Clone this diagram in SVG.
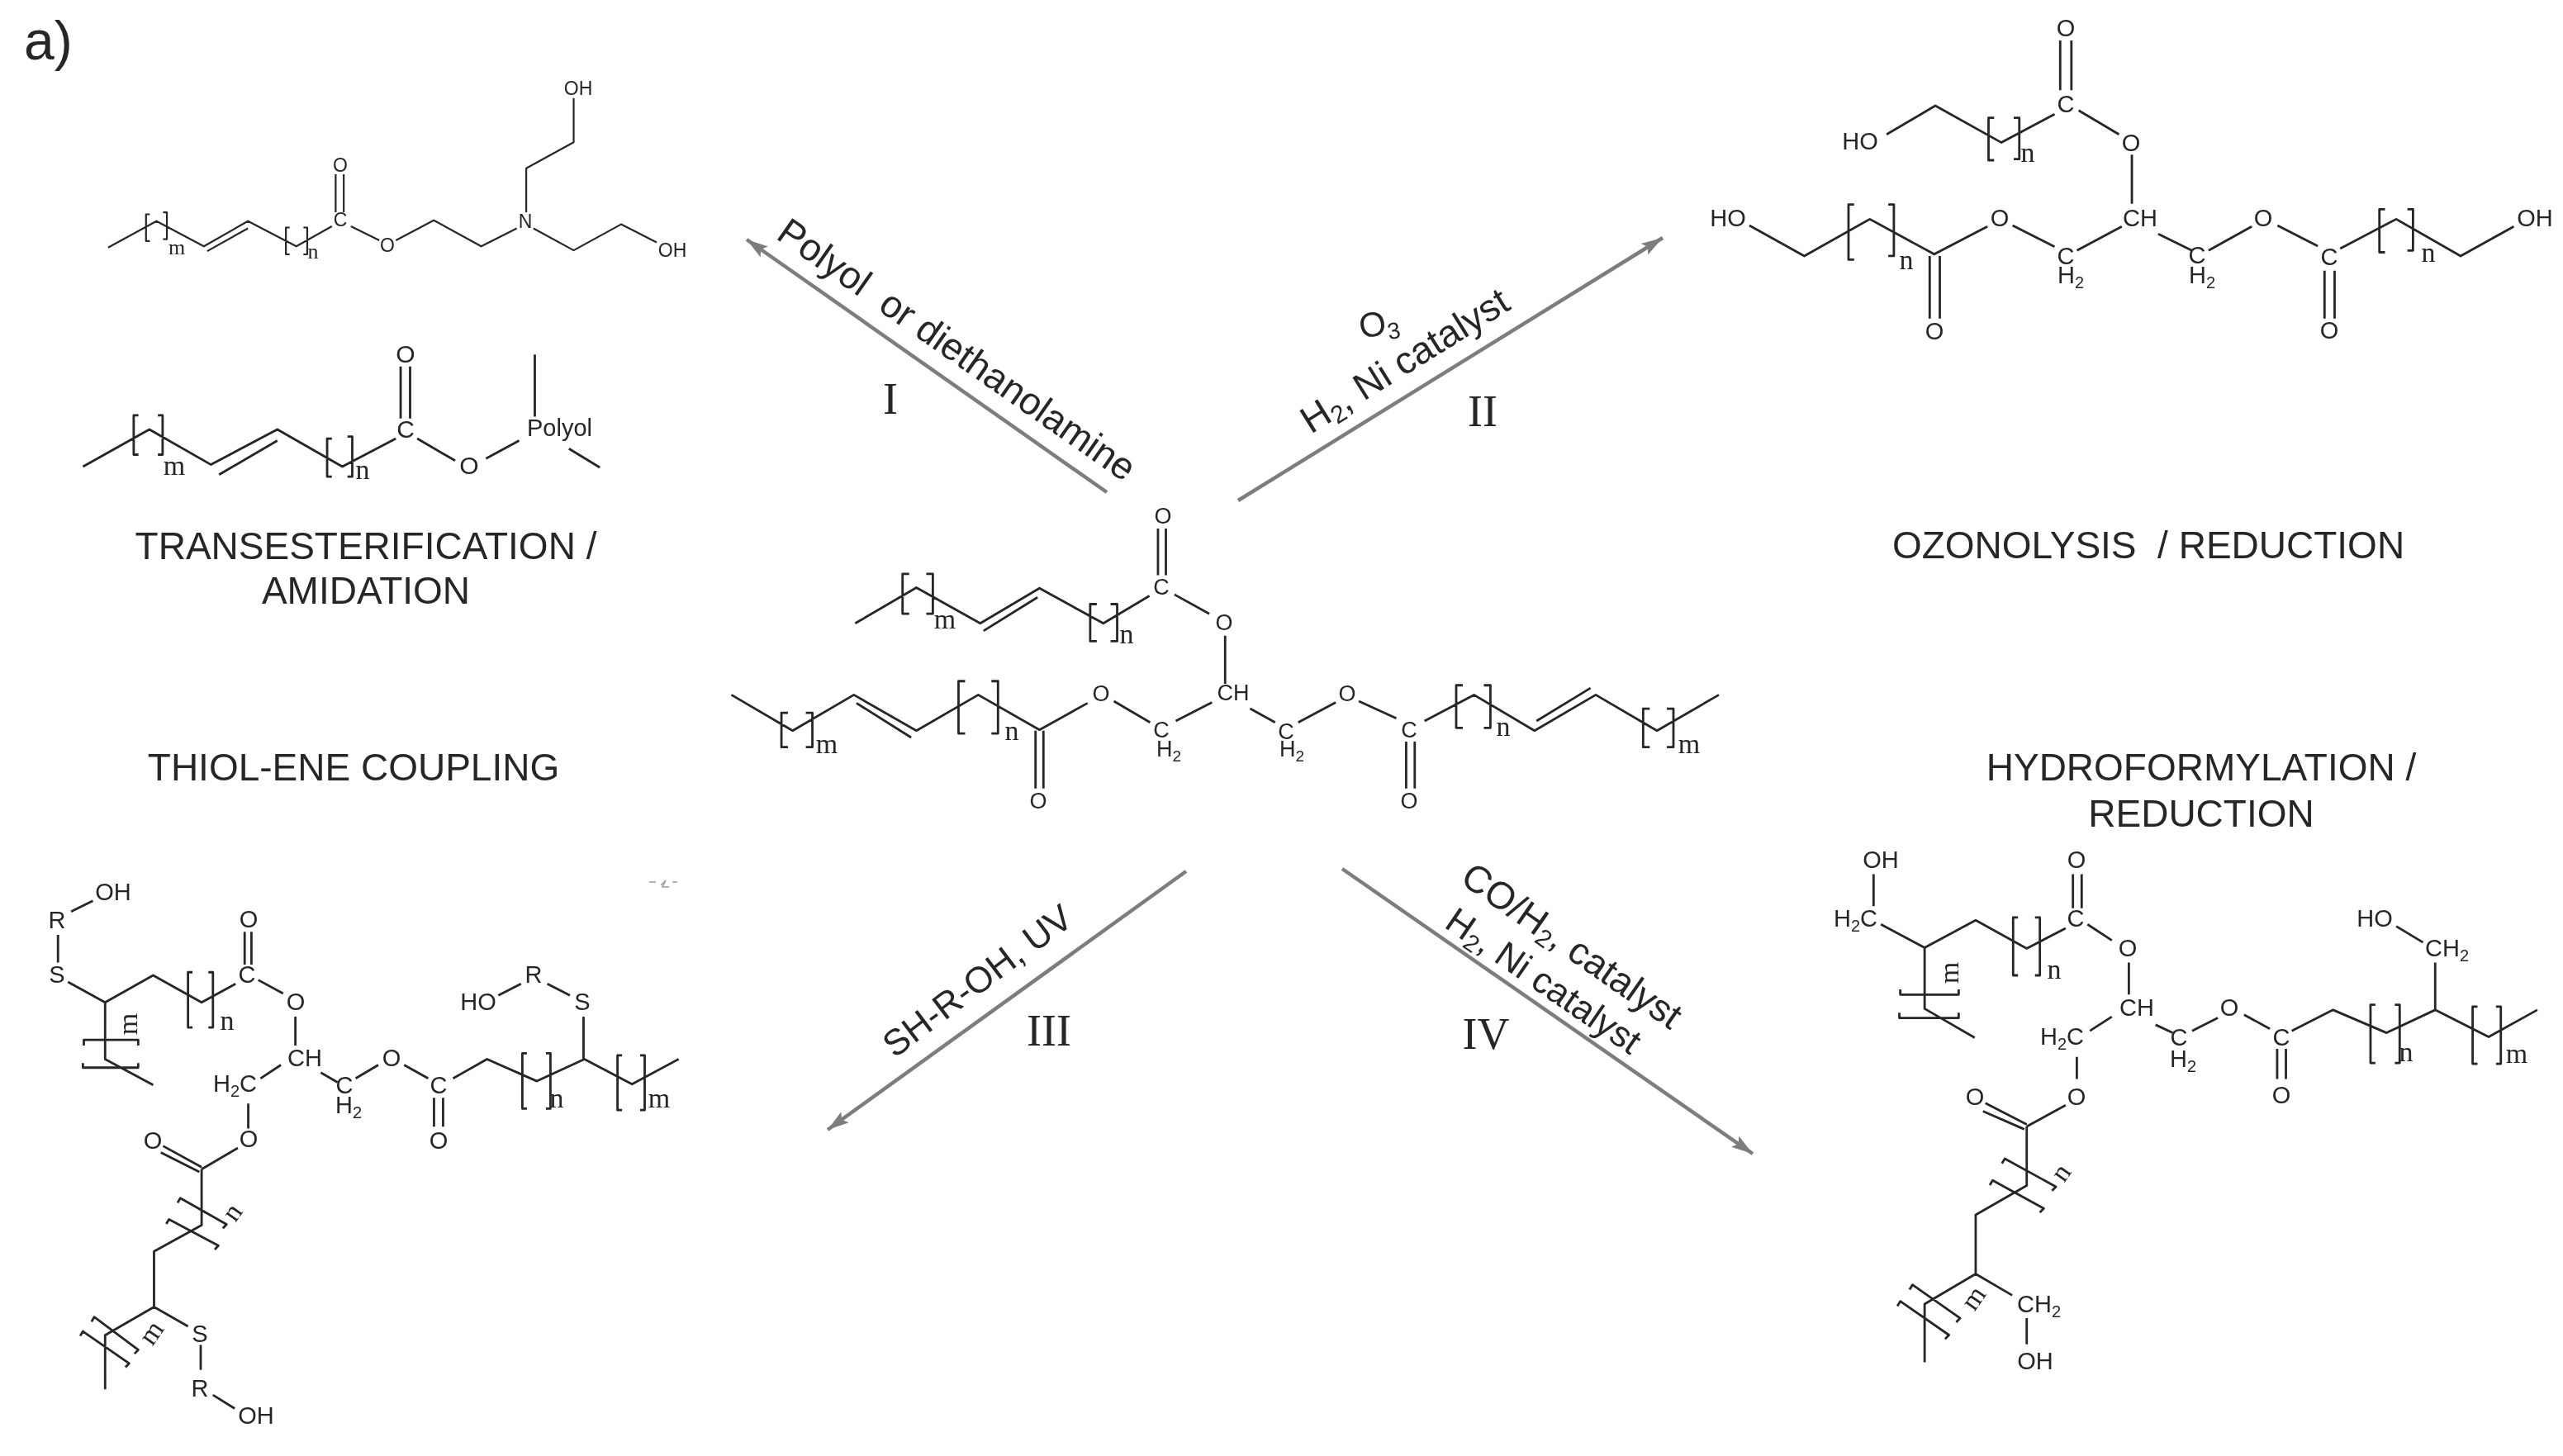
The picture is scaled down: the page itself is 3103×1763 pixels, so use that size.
<svg xmlns="http://www.w3.org/2000/svg" width="3103" height="1763" viewBox="0 0 3103 1763">
<style>
.b{fill:none;stroke:#262626;stroke-width:2.8;vector-effect:non-scaling-stroke;stroke-linejoin:round}
.thin{stroke-width:2.2}
text{fill:#262626;font-family:"Liberation Sans",Arial,sans-serif}
.a{text-anchor:middle}
.f22{font-size:23px}.f27{font-size:27px}.f29{font-size:29px}.f30{font-size:30px}
.t{font-family:"Liberation Serif","Times New Roman",serif;text-anchor:middle;font-size:34px}
.ts{font-size:26px}
.cap{font-size:46px;text-anchor:middle;white-space:pre}
.r{font-size:46px;white-space:pre}
.rom{font-family:"Liberation Serif","Times New Roman",serif;font-size:54px;text-anchor:middle}
.arrow{fill:none;stroke:#7d7d7d;stroke-width:4.5;marker-end:url(#head)}
</style>
<defs>
<marker id="head" markerUnits="userSpaceOnUse" markerWidth="30" markerHeight="24" refX="26" refY="10" orient="auto"><path d="M0 2L26 10L0 18L5 10Z" fill="#7d7d7d"/></marker>
<filter id="soft" x="0" y="0" width="100%" height="100%"><feGaussianBlur stdDeviation="0.6"/></filter>
</defs>
<rect width="3103" height="1763" fill="#fff"/>
<g filter="url(#soft)">
<text id="panel-label" x="29" y="72" font-size="66">a)</text>

<g id="connectors">
<path class="arrow" d="M1340 596L904 290"/>
<path class="arrow" d="M1499 606L2013 288"/>
<path class="arrow" d="M1436 1055L1002 1368"/>
<path class="arrow" d="M1625 1052L2122 1397"/>
</g>

<g id="reagents">
<text class="r" transform="translate(938 288) rotate(35)">Polyol  or diethanolamine</text>
<text font-size="42" transform="translate(1648 410) rotate(-10)">O<tspan font-size="28" dy="7">3</tspan></text>
<text class="r" transform="translate(1587 526) rotate(-32)">H<tspan font-size="30" dy="7">2</tspan><tspan dy="-7">, Ni catalyst</tspan></text>
<text class="r" transform="translate(1083 1282) rotate(-37)" style="font-size:44px">SH-R-OH, UV</text>
<text class="r" transform="translate(1766 1068) rotate(35)">CO/H<tspan font-size="30" dy="7">2</tspan><tspan dy="-7">, catalyst</tspan></text>
<text class="r" transform="translate(1747 1122) rotate(34.5)" style="font-size:44px">H<tspan font-size="29" dy="7">2</tspan><tspan dy="-7">, Ni catalyst</tspan></text>
<text class="rom" x="1078" y="501">I</text>
<text class="rom" x="1795" y="516">II</text>
<text class="rom" x="1270" y="1266">III</text>
<text class="rom" x="1799" y="1270">IV</text>
</g>

<g id="captions">
<text class="cap" x="443" y="677">TRANSESTERIFICATION /</text>
<text class="cap" x="443" y="731">AMIDATION</text>
<text class="cap" x="2601" y="676">OZONOLYSIS  / REDUCTION</text>
<text class="cap" x="428" y="945">THIOL-ENE COUPLING</text>
<text class="cap" x="2665" y="945">HYDROFORMYLATION /</text>
<text class="cap" x="2665" y="1001">REDUCTION</text>
</g>

<g id="mol-amine">
<g transform="scale(.574 .485)"><path class="b thin" d="M228 618L330 552L430 615L523 552L625 615L700 565M437 627L523 570M740 565L800 600M835 600L915 550L1015 615L1090 570M1110 530V420L1210 355V245M1125 570L1210 625L1310 560L1385 605M708 435V530M725 435V530M316 535H308V602H316M344 530H352V597H344M611 568H603V635H611M640 568H648V635H640"/></g>
<g class="a f22"><text x="700" y="115">OH</text><text x="412" y="208">O</text><text x="412" y="274">C</text><text x="469" y="305">O</text><text x="636" y="276">N</text><text x="814" y="311">OH</text></g>
<text class="t ts" x="214" y="308">m</text><text class="t ts" x="379" y="313">n</text>
</g>

<g id="mol-polyol">
<g transform="scale(.574 .485)"><path class="b" d="M175 1165L315 1072L445 1160L585 1072L722 1165L835 1095M462 1185L585 1100M845 915V1045M865 915V1045M880 1095L960 1150M1025 1145L1095 1100M1128 885V1040M1200 1120L1265 1167M292 1037H282V1135H292M333 1037H343V1135H333M700 1095H690V1190H700M733 1090H743V1190H733"/></g>
<g class="a f30"><text x="491" y="439">O</text><text x="491" y="530">C</text><text x="568" y="574">O</text></g>
<text x="638" y="528" font-size="29">Polyol</text>
<text class="t" x="211" y="575">m</text><text class="t" x="439" y="580">n</text>
</g>

<g id="mol-ozonolysis">
<g transform="translate(2040 0) scale(.678 .446)"><path class="b" d="M360 365L447 287L565 387L660 310M670 110V245M690 110V245M703 300L775 365M798 420V553M552 320H542V435H552M587 320H597V432H587M115 612L213 695L330 595L445 690L540 615M585 612L660 670M700 680L780 615M302 555H292V705H302M363 555H373V695H363M437 695V865M455 695V865M845 635L905 680M935 680L1012 615M1058 612L1130 668M1170 675L1270 595L1385 695L1480 615M1250 568H1240V685H1250M1290 568H1300V680H1290M1142 735V865M1160 735V865"/></g>
<g class="a f29"><text x="2501" y="44">O</text><text x="2252" y="181">HO</text><text x="2501" y="136">C</text><text x="2580" y="183">O</text><text x="2092" y="274">HO</text><text x="2421" y="274">O</text><text x="2591" y="274">CH</text><text x="2740" y="274">O</text><text x="3069" y="274">OH</text><text x="2501" y="320">C</text><text x="2660" y="319">C</text><text x="2820" y="321">C</text><text x="2342" y="411">O</text><text x="2820" y="410">O</text></g>
<text class="f29" x="2491" y="343">H<tspan font-size="20" dy="6">2</tspan></text><text class="f29" x="2650" y="343">H<tspan font-size="20" dy="6">2</tspan></text>
<text class="t" x="2455" y="196">n</text><text class="t" x="2308" y="326">n</text><text class="t" x="2940" y="317">n</text>
</g>

<g id="mol-triglyceride">
<g transform="translate(860 580) scale(.797 .333)"><path class="b" d="M220 525L313 395L410 525L500 397L597 525L667 425M415 552L497 430M680 180V350M692 180V350M705 420L758 490M782 570V745M302 345H292V490H302M328 345H338V490H328M587 455H577V590H587M608 455H618V590H608M32 785L125 915L218 785L313 915L407 785L500 912L573 815M222 815L305 940M613 808L668 885M707 880L762 812M118 850H108V975H118M145 850H155V975H145M387 735H377V925H387M427 735H437V925H427M494 915V1125M506 915V1125M820 835L858 885M893 885L950 812M985 808L1042 870M1085 880L1160 785L1252 915L1345 785L1438 915L1532 785M1255 880L1337 760M1143 750H1133V905H1143M1175 750H1185V905H1175M1427 835H1417V975H1427M1453 835H1463V975H1453M1057 955V1125M1070 955V1125"/></g>
<g class="a f27"><text x="1408" y="634">O</text><text x="1406" y="720">C</text><text x="1482" y="763">O</text><text x="1493" y="848">CH</text><text x="1333" y="849">O</text><text x="1406" y="893">C</text><text x="1557" y="895">C</text><text x="1631" y="849">O</text><text x="1706" y="893">C</text><text x="1257" y="979">O</text><text x="1706" y="979">O</text></g>
<text class="f27" x="1400" y="916">H<tspan font-size="19" dy="6">2</tspan></text><text class="f27" x="1549" y="916">H<tspan font-size="19" dy="6">2</tspan></text>
<text class="t" x="1144" y="761">m</text><text class="t" x="1364" y="779">n</text><text class="t" x="1001" y="912">m</text><text class="t" x="1225" y="896">n</text><text class="t" x="1820" y="891">n</text><text class="t" x="2045" y="912">m</text>
</g>

<g id="mol-thiol">
<g transform="translate(0 1030) scale(.5485 .4675)"><path class="b" d="M157 158L205 130M128 218V290M150 340L232 393L338 323L445 393L520 345M540 210V295M555 210V295M570 335L625 370M652 430V505M232 393V540L338 607M185 505V490H305V505M183 550V562H305V550M425 315H415V458H425M460 315H470V458H460M620 555L575 590M548 655V720M525 770L445 825M360 765L445 820M355 782L440 832M445 825V970L340 1038V1182L232 1255V1395M392 912L398 900L500 968L492 978M367 967L373 955L482 1023L474 1033M202 1220L208 1208L305 1293L297 1303M177 1257L183 1245L285 1328L277 1338M340 1182L415 1232M443 1280V1345M470 1410L518 1445M708 575L745 600M785 590L835 555M892 555L945 590M1000 590L1075 540L1185 597L1290 540L1395 605L1498 540M958 640V715M978 640V715M1163 525H1153V668H1163M1205 525H1215V668H1205M1373 530H1363V672H1373M1413 530H1423V672H1413M1288 540V430M1258 375L1208 345M1150 345L1100 375"/></g>
<g class="a f29"><text x="137" y="1090">OH</text><text x="69" y="1124">R</text><text x="69" y="1190">S</text><text x="299" y="1190">C</text><text x="301" y="1123">O</text><text x="358" y="1223">O</text><text x="369" y="1291">CH</text><text x="301" y="1389">O</text><text x="185" y="1391">O</text><text x="242" y="1625">S</text><text x="242" y="1691">R</text><text x="310" y="1724">OH</text><text x="417" y="1324">C</text><text x="474" y="1291">O</text><text x="531" y="1324">C</text><text x="531" y="1391">O</text><text x="705" y="1223">S</text><text x="646" y="1190">R</text><text x="579" y="1223">HO</text></g>
<text class="f29" x="258" y="1322">H<tspan font-size="20" dy="6">2</tspan><tspan dy="-6">C</tspan></text>
<text class="f29" x="406" y="1348">H<tspan font-size="20" dy="6">2</tspan></text>
<text class="t" x="275" y="1247">n</text><text class="t" x="674" y="1341">n</text><text class="t" x="798" y="1341">m</text>
<text class="t" transform="translate(166 1240) rotate(-90)">m</text>
<text class="t" transform="translate(290 1474) rotate(-55)">n</text>
<text class="t" transform="translate(192 1620) rotate(-55)">m</text>
<path d="M786 1068h8M800 1072l6 -6l-4 8h8M814 1068h6" fill="none" stroke="#9a9a9a" stroke-width="1.5"/>
</g>

<g id="mol-hydroformyl">
<g transform="translate(2180 1000) scale(.5887 .4866)"><path class="b" d="M150 120V200M165 245L255 303L360 235L465 305L545 255M560 120V205M578 120V205M590 245L640 285M675 340V420M447 228H437V372H447M482 228H492V372H482M255 303V455L358 527M205 407V420H325V407M203 465V478H325V465M640 475L595 510M568 575V630M545 695L465 748M380 690L465 743M375 710L460 755M465 748V895L360 968V1115L255 1190V1335M414 840L420 828L525 898L517 908M389 894L395 882L500 952L492 962M224 1154L230 1142L328 1225L320 1235M199 1195L205 1183L305 1267L297 1277M360 1115L435 1168M465 1225V1290M730 495L765 515M805 510L858 478M912 470L965 505M1010 510L1095 458L1205 515L1305 458L1415 525L1515 458M980 555V630M998 555V630M1182 445H1172V590H1182M1222 445H1232V590H1222M1392 450H1382V592H1392M1430 450H1440V592H1430M1305 458V340M1225 250L1280 290"/></g>
<g class="a f29"><text x="2277" y="1051">OH</text><text x="2513" y="1122">C</text><text x="2514" y="1051">O</text><text x="2576" y="1158">O</text><text x="2587" y="1230">CH</text><text x="2514" y="1338">O</text><text x="2391" y="1338">O</text><text x="2464" y="1658">OH</text><text x="2638" y="1266">C</text><text x="2699" y="1230">O</text><text x="2762" y="1266">C</text><text x="2762" y="1336">O</text><text x="2875" y="1122">HO</text></g>
<text class="f29" x="2220" y="1122">H<tspan font-size="20" dy="6">2</tspan><tspan dy="-6">C</tspan></text>
<text class="f29" x="2470" y="1265">H<tspan font-size="20" dy="6">2</tspan><tspan dy="-6">C</tspan></text>
<text class="f29" x="2442" y="1589">CH<tspan font-size="20" dy="6">2</tspan></text>
<text class="f29" x="2627" y="1292">H<tspan font-size="20" dy="6">2</tspan></text>
<text class="f29" x="2936" y="1158">CH<tspan font-size="20" dy="6">2</tspan></text>
<text class="t" x="2487" y="1185">n</text><text class="t" x="2913" y="1285">n</text><text class="t" x="3047" y="1287">m</text>
<text class="t" transform="translate(2371 1178) rotate(-90)">m</text>
<text class="t" transform="translate(2504 1426) rotate(-55)">n</text>
<text class="t" transform="translate(2398 1578) rotate(-55)">m</text>
</g>
</g>
</svg>
